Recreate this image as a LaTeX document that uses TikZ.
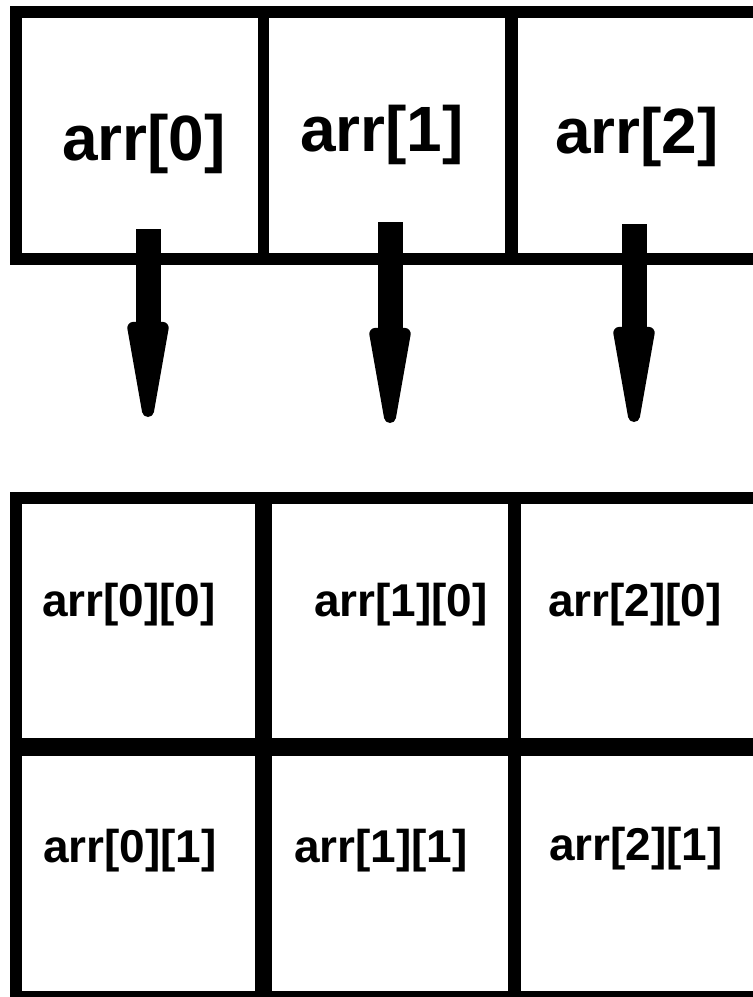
\documentclass[tikz,border=0pt]{standalone}
\usepackage{fontspec}
\setmainfont{Liberation Sans}
\usetikzlibrary{arrows.meta}

\tikzset{
  gridline/.style={draw=black,line width=#1,line join=miter},
  toplabel/.style={inner sep=0pt,font=\fontsize{64}{64}\selectfont\bfseries},
  sublabel/.style={inner sep=0pt,font=\fontsize{46}{46}\selectfont\bfseries},
  bigarrow/.style={draw=black,line width=25pt,-{Triangle[width=40pt,length=128pt,line width=12pt,round]}}
}

\begin{document}
\begin{tikzpicture}[x=1pt,y=-1pt]
  \useasboundingbox (0,0) rectangle (753,997);
  \clip (0,0) rectangle (753,997);
  % top row: arr[0..2]
  \draw[gridline=12pt](770,12)--(16,12)--(16,259)--(770,259);
  \draw[gridline=11pt](263,12)--(263,259);
  \draw[gridline=13pt](511,12)--(511,259);
  \node[toplabel](top0)at(144,144){arr[0]};
  \node[toplabel](top1)at(382,135){arr[1]};
  \node[toplabel](top2)at(637,137){arr[2]};
  % pointers
  \coordinate(src0)at(148,229);\coordinate(dst0)at(148,417);
  \coordinate(src1)at(390,222);\coordinate(dst1)at(390,423);
  \coordinate(src2)at(634,224);\coordinate(dst2)at(634,422);
  \draw[bigarrow](src0)--(dst0);
  \draw[bigarrow](src1)--(dst1);
  \draw[bigarrow](src2)--(dst2);
  % bottom grid: arr[i][j]
  \draw[gridline=12pt](770,498)--(16,498)--(16,997)--(770,997);
  \draw[gridline=18pt](16,747)--(770,747);
  \draw[gridline=17pt](263,498)--(263,997);
  \draw[gridline=13pt](514,498)--(514,997);
  \node[sublabel](cell00)at(129,605){arr[0][0]};
  \node[sublabel](cell10)at(401,605){arr[1][0]};
  \node[sublabel](cell20)at(635,605){arr[2][0]};
  \node[sublabel](cell01)at(130,851){arr[0][1]};
  \node[sublabel](cell11)at(381,851){arr[1][1]};
  \node[sublabel](cell21)at(636,849){arr[2][1]};
\end{tikzpicture}
\end{document}
